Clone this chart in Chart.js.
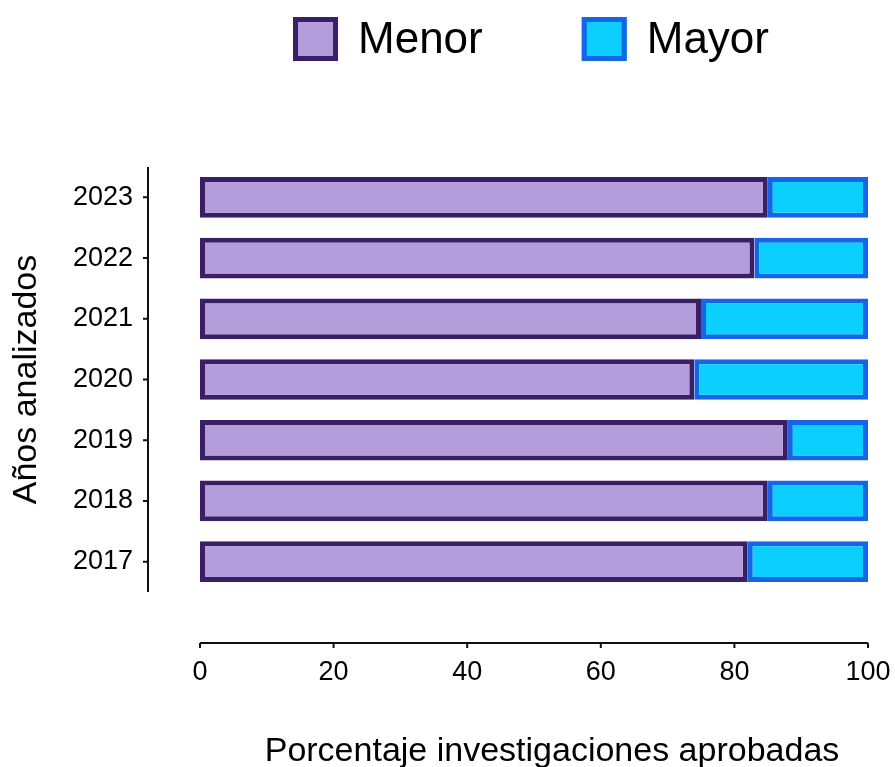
<!DOCTYPE html>
<html>
<head>
<meta charset="utf-8">
<script src="https://cdn.jsdelivr.net/npm/chart.js@4"></script>
<style>
  body { margin: 0; background: #fff; }
  #wrap { width: 895px; height: 767px; }
</style>
</head>
<body>
<div id="wrap"><canvas id="grafico" width="895" height="767"></canvas></div>
<script>
// Datos
const years = ['2017', '2018', '2019', '2020', '2021', '2022', '2023'];
const menor = [82, 85, 88, 74, 75, 83, 85];
const mayor = [18, 15, 12, 26, 25, 17, 15];
const xTicks = [0, 20, 40, 60, 80, 100];
const xTitle = 'Porcentaje investigaciones aprobadas';

const FONT = "'Liberation Sans', Arial, sans-serif";

// ejes desplazados (estilo despine), titulo x y leyenda
const offsetAxes = {
  id: 'offsetAxes',
  afterDraw(chart) {
    const ctx = chart.ctx;
    const area = chart.chartArea;
    const xs = chart.scales.x, ys = chart.scales.y;
    ctx.save();
    ctx.strokeStyle = '#111';
    ctx.lineWidth = 2;
    // eje y
    const ax = area.left - 52;
    ctx.beginPath();
    ctx.moveTo(ax, area.top);
    ctx.lineTo(ax, area.bottom);
    ys.ticks.forEach((t, i) => {
      const p = ys.getPixelForTick(i);
      ctx.moveTo(ax, p);
      ctx.lineTo(ax - 5, p);
    });
    ctx.stroke();
    // eje x
    const ay = area.bottom + 51;
    ctx.beginPath();
    ctx.moveTo(xs.getPixelForValue(xTicks[0]), ay);
    ctx.lineTo(xs.getPixelForValue(xTicks[xTicks.length - 1]), ay);
    xTicks.forEach(v => {
      const p = xs.getPixelForValue(v);
      ctx.moveTo(p, ay);
      ctx.lineTo(p, ay + 5);
    });
    ctx.stroke();

    // titulo eje x (un poco corrido a la derecha como en el original)
    ctx.font = '34px ' + FONT;
    ctx.fillStyle = '#000';
    ctx.textAlign = 'center';
    ctx.textBaseline = 'alphabetic';
    ctx.fillText(xTitle, (area.left + area.right) / 2 + 18, 761);

    // leyenda
    ctx.font = '44px ' + FONT;
    ctx.textAlign = 'left';
    const box = 45, gap = 20, between = 99;
    const items = chart.data.datasets.map(d => ({ d, w: ctx.measureText(d.label).width }));
    let total = 0;
    items.forEach((it, i) => { total += box + gap + it.w + (i ? between : 0); });
    let x = (area.left + area.right) / 2 - total / 2 - 3;
    items.forEach(it => {
      ctx.fillStyle = it.d.backgroundColor;
      ctx.fillRect(x, 17, box, 44);
      ctx.strokeStyle = it.d.borderColor;
      ctx.lineWidth = 5;
      ctx.strokeRect(x + 2.5, 19.5, box - 5, 39);
      ctx.fillStyle = '#000';
      ctx.fillText(it.d.label, x + box + gap, 53);
      x += box + gap + it.w + between;
    });
    ctx.restore();
  }
};

new Chart(document.getElementById('grafico'), {
  type: 'bar',
  data: {
    labels: years,
    datasets: [
      {
        label: 'Menor',
        data: menor,
        backgroundColor: '#b39ddb',
        borderColor: '#3b1f66',
        borderWidth: 5,
        borderSkipped: false
      },
      {
        label: 'Mayor',
        data: mayor,
        backgroundColor: '#0acfff',
        borderColor: '#1565e8',
        borderWidth: 5,
        borderSkipped: false
      }
    ]
  },
  options: {
    indexAxis: 'y',
    responsive: false,
    animation: false,
    layout: { padding: { top: 167, right: 27, left: 0, bottom: 0 } },
    datasets: { bar: { categoryPercentage: 1, barPercentage: 0.67 } },
    plugins: {
      legend: { display: false },
      tooltip: { enabled: false }
    },
    scales: {
      x: {
        stacked: true,
        min: 0,
        max: 100,
        grid: { display: false, drawTicks: false },
        border: { display: false },
        ticks: { stepSize: 20, padding: 64, color: '#000', font: { family: FONT, size: 27 } },
        afterFit(scale) {
          scale.height = 175;
          scale.paddingLeft = 0;
          scale.paddingRight = 0;
        }
      },
      y: {
        stacked: true,
        reverse: true,
        grid: { display: false, drawTicks: false },
        border: { display: false },
        ticks: { padding: 67, color: '#000', font: { family: FONT, size: 27 } },
        title: {
          display: true,
          text: 'Años analizados',
          color: '#000',
          font: { family: FONT, size: 34, lineHeight: 1.1 },
          padding: { top: 8, bottom: 0 }
        },
        afterFit(scale) {
          scale.width = 200;
          scale.paddingTop = 0;
          scale.paddingBottom = 0;
        }
      }
    }
  },
  plugins: [offsetAxes]
});
</script>
</body>
</html>
